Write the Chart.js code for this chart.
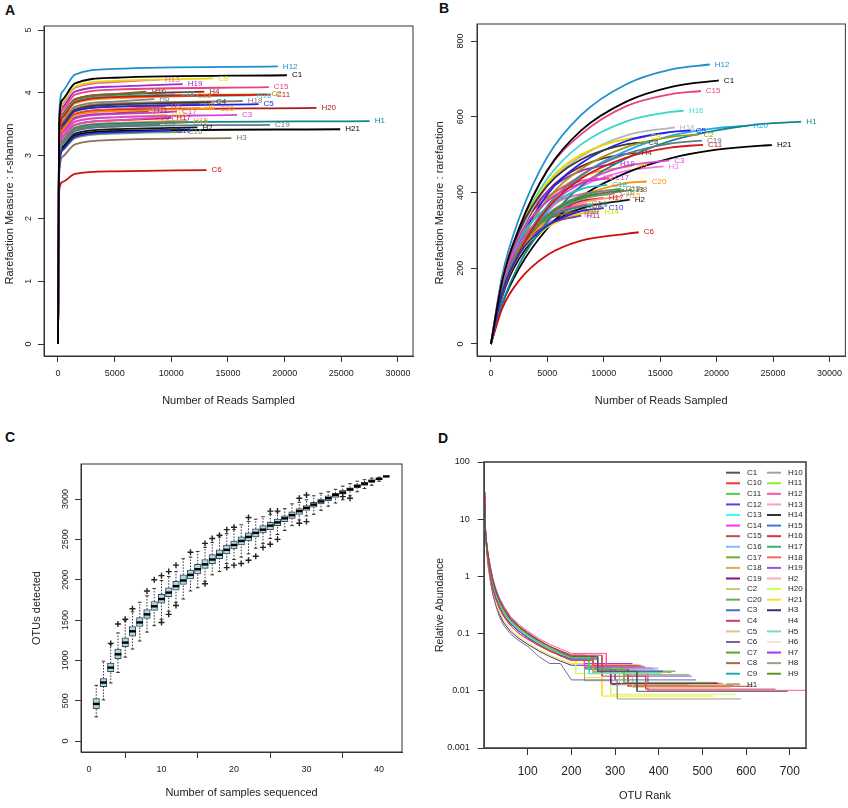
<!DOCTYPE html>
<html>
<head>
<meta charset="utf-8">
<title>Rarefaction and rank abundance</title>
<script src="https://cdn.jsdelivr.net/npm/chart.js@4.4.1/dist/chart.umd.min.js"></script>
<style>
  body { margin: 0; background: #fff; width: 848px; height: 808px; position: relative; overflow: hidden; }
  canvas { position: absolute; }
  .tag { position: absolute; font: bold 14px "Liberation Sans", Arial, sans-serif; line-height: 14px; color: #111; }
</style>
</head>
<body>
<div class="tag" style="left:5px;top:3px">A</div>
<div class="tag" style="left:439px;top:1px">B</div>
<div class="tag" style="left:5px;top:430px">C</div>
<div class="tag" style="left:438px;top:431px">D</div>
<canvas id="chartA" width="424" height="412" style="left:0;top:0"></canvas>
<canvas id="chartB" width="424" height="412" style="left:424px;top:0"></canvas>
<canvas id="chartC" width="424" height="404" style="left:0;top:404px"></canvas>
<canvas id="chartD" width="424" height="404" style="left:424px;top:404px"></canvas>
<script>
// samples, same order as the legend of panel D
var samples = ["C1","C10","C11","C12","C13","C14","C15","C16","C17","C18","C19","C2","C20",
  "C3","C4","C5","C6","C7","C8","C9","H1","H10","H11","H12","H13","H14","H15","H16","H17",
  "H18","H19","H2","H20","H21","H3","H4","H5","H6","H7","H8","H9"];

// reads per sample (where each rarefaction curve stops)
var readsEnd = {
  C1: 20200, C10: 10000, C11: 18800, C12: 11500, C13: 11800, C14: 8500, C15: 18600,
  C16: 11000, C17: 10500, C18: 10300, C19: 18700, C2: 18400, C20: 13800, C3: 15800,
  C4: 13500, C5: 17700, C6: 13100, C7: 8000, C8: 13700, C9: 9000, H1: 27500, H10: 7800,
  H11: 8000, H12: 19400, H13: 9000, H14: 9600, H15: 11500, H16: 17100, H17: 10000,
  H18: 16300, H19: 11000, H2: 12300, H20: 22800, H21: 24900, H3: 15300, H4: 12900,
  H5: 9500, H6: 8500, H7: 7800, H8: 12500, H9: 12500
};

// panel A: shannon at these reads, last value is at readsEnd
var shannonX = [0, 100, 400, 1500, 5000];
var shannonY = {
  C1: [0, 3.51, 3.89, 4.15, 4.24, 4.28], C10: [0, 2.79, 3.09, 3.30, 3.37, 3.40],
  C11: [0, 3.26, 3.61, 3.85, 3.93, 3.97], C12: [0, 2.89, 3.21, 3.42, 3.49, 3.53],
  C13: [0, 3.24, 3.59, 3.83, 3.91, 3.95], C14: [0, 2.95, 3.28, 3.49, 3.56, 3.60],
  C15: [0, 3.35, 3.72, 3.97, 4.05, 4.09], C16: [0, 2.77, 3.08, 3.28, 3.35, 3.38],
  C17: [0, 3.03, 3.37, 3.59, 3.66, 3.70], C18: [0, 3.26, 3.62, 3.86, 3.94, 3.98],
  C19: [0, 2.86, 3.18, 3.39, 3.46, 3.49], C2: [0, 3.26, 3.62, 3.86, 3.94, 3.98],
  C20: [0, 3.08, 3.41, 3.64, 3.71, 3.75], C3: [0, 2.99, 3.32, 3.54, 3.61, 3.65],
  C4: [0, 3.16, 3.50, 3.73, 3.81, 3.85], C5: [0, 3.13, 3.48, 3.71, 3.78, 3.82],
  C6: [0, 2.44, 2.58, 2.71, 2.75, 2.77], C7: [0, 3.28, 3.64, 3.88, 3.96, 4.00],
  C8: [0, 3.47, 3.85, 4.10, 4.19, 4.23], C9: [0, 2.87, 3.19, 3.40, 3.47, 3.50],
  H1: [0, 2.91, 3.23, 3.44, 3.51, 3.55], H10: [0, 3.30, 3.66, 3.90, 3.98, 4.02],
  H11: [0, 3.04, 3.38, 3.60, 3.67, 3.71], H12: [0, 3.62, 4.02, 4.29, 4.38, 4.42],
  H13: [0, 3.45, 3.83, 4.08, 4.17, 4.21], H14: [0, 2.99, 3.32, 3.54, 3.61, 3.65],
  H15: [0, 2.92, 3.24, 3.45, 3.52, 3.56], H16: [0, 3.25, 3.60, 3.84, 3.92, 3.96],
  H17: [0, 2.95, 3.28, 3.49, 3.56, 3.60], H18: [0, 3.17, 3.52, 3.75, 3.83, 3.87],
  H19: [0, 3.39, 3.77, 4.02, 4.10, 4.14], H2: [0, 2.83, 3.14, 3.35, 3.42, 3.45],
  H20: [0, 3.08, 3.42, 3.65, 3.72, 3.76], H21: [0, 2.80, 3.11, 3.32, 3.39, 3.42],
  H3: [0, 2.69, 2.98, 3.18, 3.25, 3.28], H4: [0, 3.30, 3.66, 3.90, 3.98, 4.02],
  H5: [0, 3.10, 3.44, 3.67, 3.74, 3.78], H6: [0, 3.20, 3.55, 3.78, 3.86, 3.90],
  H7: [0, 3.05, 3.39, 3.61, 3.68, 3.72], H8: [0, 3.13, 3.48, 3.71, 3.78, 3.82],
  H9: [0, 3.08, 3.42, 3.65, 3.72, 3.76]
};

// panel B: observed OTUs at these reads, last value is at readsEnd
var rareX = [0, 1000, 2500, 5000, 8000, 12000, 16000, 20000, 24000];
var rareY = {
  C1: [0, 167, 306, 459, 564, 640, 679, 696], C10: [0, 136, 237, 312, 351, 359],
  C11: [0, 132, 242, 358, 437, 492, 519, 526], C12: [0, 144, 250, 342, 392, 410],
  C13: [0, 138, 244, 338, 387, 407], C14: [0, 155, 263, 339, 370],
  C15: [0, 167, 307, 458, 554, 628, 660, 668], C16: [0, 143, 251, 336, 382, 398],
  C17: [0, 162, 283, 377, 425, 438], C18: [0, 155, 273, 361, 409, 420],
  C19: [0, 134, 247, 365, 446, 502, 530, 537], C2: [0, 138, 257, 382, 462, 520, 547, 553],
  C20: [0, 133, 236, 335, 390, 425, 429], C3: [0, 136, 247, 359, 424, 470, 485],
  C4: [0, 165, 298, 418, 487, 527, 532], C5: [0, 147, 265, 395, 477, 536, 560, 564],
  C6: [0, 94, 168, 235, 273, 291, 295], C7: [0, 161, 266, 339, 365],
  C8: [0, 169, 300, 426, 500, 541, 546], C9: [0, 147, 253, 330, 363, 367],
  H1: [0, 106, 211, 323, 417, 490, 537, 564, 581, 587], H10: [0, 158, 261, 329, 350],
  H11: [0, 149, 247, 315, 339], H12: [0, 181, 332, 494, 605, 686, 725, 738],
  H13: [0, 160, 276, 360, 396, 400], H14: [0, 137, 235, 308, 344, 350],
  H15: [0, 137, 238, 326, 372, 390], H16: [0, 163, 302, 437, 527, 588, 613, 616],
  H17: [0, 146, 254, 335, 377, 385], H18: [0, 154, 286, 418, 495, 551, 572],
  H19: [0, 171, 300, 402, 457, 476], H2: [0, 128, 225, 311, 358, 381],
  H20: [0, 121, 236, 351, 444, 510, 550, 570, 576],
  H21: [0, 105, 200, 305, 389, 452, 491, 513, 524, 525],
  H3: [0, 131, 244, 349, 415, 457, 469], H4: [0, 164, 287, 403, 469, 502, 504],
  H5: [0, 171, 296, 388, 431, 438], H6: [0, 151, 256, 329, 360],
  H7: [0, 153, 253, 320, 340], H8: [0, 134, 236, 330, 383, 407],
  H9: [0, 155, 273, 381, 442, 470]
};

// panel C: OTUs detected vs number of samples pooled
var poolN = [];
for (var n = 1; n <= 41; n++) poolN.push(n);
var poolMed = [460, 725, 910, 1075, 1220, 1360, 1470, 1570, 1670, 1760, 1840, 1920, 1990, 2060,
  2130, 2190, 2250, 2310, 2370, 2430, 2480, 2530, 2580, 2620, 2670, 2710, 2760, 2800, 2850,
  2890, 2930, 2970, 3010, 3050, 3080, 3120, 3160, 3190, 3220, 3250, 3280];
var poolQ1 = [400, 675, 860, 1020, 1170, 1300, 1420, 1520, 1620, 1710, 1790, 1870, 1940, 2010,
  2070, 2140, 2200, 2260, 2320, 2380, 2430, 2480, 2530, 2580, 2620, 2670, 2720, 2760, 2810,
  2860, 2900, 2940, 2980, 3020, 3060, 3100, 3140, 3170, 3210, 3240, 3280];
var poolQ3 = [525, 775, 965, 1140, 1280, 1420, 1530, 1630, 1730, 1820, 1900, 1980, 2060, 2120,
  2190, 2250, 2310, 2370, 2430, 2480, 2530, 2580, 2630, 2670, 2710, 2750, 2790, 2840, 2880,
  2920, 2960, 3000, 3040, 3070, 3110, 3140, 3180, 3210, 3240, 3260, 3280];
var poolLo = [300, 510, 720, 850, 1040, 1140, 1240, 1350, 1430, 1510, 1610, 1720, 1760, 1860,
  1900, 1980, 2060, 2100, 2200, 2250, 2280, 2320, 2390, 2450, 2510, 2560, 2610, 2670, 2740,
  2790, 2810, 2860, 2910, 2950, 2990, 3040, 3090, 3130, 3170, 3220, 3280];
var poolHi = [690, 990, 1200, 1340, 1490, 1600, 1720, 1800, 1890, 1990, 2040, 2100, 2260, 2280,
  2350, 2400, 2460, 2530, 2570, 2620, 2680, 2720, 2750, 2780, 2810, 2840, 2880, 2940, 2960,
  2990, 3040, 3070, 3090, 3120, 3160, 3190, 3220, 3240, 3260, 3270, 3280];
var poolOut = [[3, 1210], [4, 1450], [5, 1510], [6, 1640], [8, 1860], [9, 2000], [10, 2050],
  [10, 1470], [11, 2100], [11, 1570], [12, 2180], [12, 1680], [14, 2340], [16, 2450], [16, 1950],
  [17, 2510], [18, 2550], [19, 2620], [19, 2150], [20, 2650], [20, 2180], [21, 2200], [22, 2770],
  [22, 2240], [23, 2290], [24, 2400], [25, 2850], [25, 2440], [26, 2850], [26, 2500], [29, 3010],
  [29, 2700], [30, 3050], [30, 2720], [35, 3030], [36, 3010]];

// panel D: relative abundance (%) at these ranks, then the tail steps [rank, value]
var rankX = [1, 2, 4, 7, 10, 15, 20, 27, 35, 45, 60, 80, 100, 125, 150, 175, 200];
var abund = {
  C1: [18, 11, 5.5, 3.2, 2.2, 1.3, 0.85, 0.55, 0.38, 0.27, 0.18, 0.13, 0.1, 0.075, 0.06, 0.048, 0.04],
  C10: [25, 13, 5, 2.6, 1.6, 0.95, 0.6, 0.4, 0.28, 0.2, 0.14, 0.1, 0.08, 0.062, 0.05, 0.041, 0.034],
  C11: [15, 9.5, 5.2, 3.0, 2.0, 1.2, 0.8, 0.52, 0.36, 0.26, 0.17, 0.12, 0.095, 0.07, 0.055, 0.045, 0.038],
  C12: [22, 11, 4.6, 2.6, 1.7, 1.0, 0.65, 0.43, 0.3, 0.21, 0.15, 0.11, 0.085, 0.064, 0.05, 0.042, 0.036],
  C13: [20, 10, 4.8, 2.7, 1.8, 1.1, 0.7, 0.45, 0.31, 0.22, 0.16, 0.115, 0.09, 0.068, 0.055, 0.044, 0.036],
  C14: [24, 12, 5.0, 2.7, 1.7, 0.98, 0.62, 0.41, 0.28, 0.2, 0.14, 0.1, 0.08, 0.062, 0.05, 0.041, 0.035],
  C15: [16, 10.5, 5.8, 3.4, 2.3, 1.4, 0.9, 0.58, 0.4, 0.28, 0.19, 0.135, 0.105, 0.078, 0.06, 0.05, 0.042],
  C16: [21, 10, 4.5, 2.5, 1.6, 0.97, 0.62, 0.42, 0.29, 0.21, 0.15, 0.11, 0.085, 0.063, 0.05, 0.041, 0.035],
  C17: [19, 10, 5.2, 2.9, 1.9, 1.12, 0.72, 0.47, 0.33, 0.23, 0.16, 0.115, 0.09, 0.068, 0.055, 0.045, 0.038],
  C18: [17, 9.5, 5.0, 2.9, 1.9, 1.15, 0.75, 0.49, 0.34, 0.24, 0.17, 0.12, 0.09, 0.068, 0.055, 0.045, 0.037],
  C19: [23, 11.5, 5.0, 2.8, 1.8, 1.05, 0.68, 0.44, 0.3, 0.21, 0.15, 0.11, 0.085, 0.064, 0.05, 0.042, 0.036],
  C2: [18, 10.5, 5.4, 3.1, 2.0, 1.22, 0.8, 0.52, 0.36, 0.25, 0.17, 0.125, 0.095, 0.072, 0.058, 0.048, 0.04],
  C20: [20, 10.5, 5.1, 2.8, 1.8, 1.1, 0.7, 0.46, 0.32, 0.22, 0.16, 0.115, 0.09, 0.066, 0.052, 0.043, 0.036],
  C3: [21, 10.5, 5.0, 2.8, 1.8, 1.1, 0.7, 0.46, 0.32, 0.23, 0.16, 0.115, 0.09, 0.068, 0.055, 0.045, 0.038],
  C4: [17, 10, 5.3, 3.1, 2.1, 1.27, 0.82, 0.53, 0.36, 0.25, 0.17, 0.125, 0.095, 0.072, 0.057, 0.048, 0.04],
  C5: [19, 10.5, 5.5, 3.1, 2.0, 1.2, 0.78, 0.51, 0.35, 0.25, 0.17, 0.125, 0.095, 0.072, 0.056, 0.047, 0.04],
  C6: [30, 14, 5.5, 2.6, 1.5, 0.82, 0.5, 0.31, 0.2, 0.14, 0.1, 0.075, 0.06, 0.04, 0.03, 0.03, 0.0155],
  C7: [16, 9.5, 5.2, 3.0, 2.0, 1.2, 0.78, 0.51, 0.35, 0.24, 0.16, 0.115, 0.09, 0.066, 0.05, 0.041, 0.034],
  C8: [15, 9.5, 5.4, 3.1, 2.1, 1.3, 0.85, 0.55, 0.38, 0.27, 0.18, 0.13, 0.1, 0.075, 0.058, 0.048, 0.04],
  C9: [22, 11, 5.0, 2.7, 1.7, 1.0, 0.65, 0.43, 0.3, 0.21, 0.15, 0.11, 0.085, 0.063, 0.05, 0.041, 0.034],
  H1: [21, 10.5, 5.0, 2.8, 1.8, 1.1, 0.7, 0.46, 0.32, 0.23, 0.16, 0.115, 0.09, 0.068, 0.055, 0.045, 0.038],
  H10: [16, 9.2, 5.0, 2.9, 2.0, 1.2, 0.76, 0.5, 0.34, 0.24, 0.16, 0.115, 0.09, 0.066, 0.05, 0.041, 0.034],
  H11: [20, 10.5, 5.0, 2.8, 1.8, 1.05, 0.68, 0.45, 0.31, 0.22, 0.15, 0.11, 0.085, 0.063, 0.05, 0.041, 0.034],
  H12: [12, 8.2, 5.0, 3.2, 2.3, 1.45, 0.95, 0.62, 0.42, 0.3, 0.2, 0.145, 0.11, 0.083, 0.065, 0.054, 0.045],
  H13: [14, 8.8, 5.2, 3.1, 2.1, 1.27, 0.82, 0.53, 0.36, 0.25, 0.17, 0.125, 0.095, 0.07, 0.055, 0.045, 0.037],
  H14: [20, 11, 5.4, 3.1, 2.0, 1.25, 0.85, 0.6, 0.42, 0.3, 0.2, 0.135, 0.1, 0.072, 0.055, 0.044, 0.036],
  H15: [22, 11, 4.8, 2.65, 1.7, 1.0, 0.66, 0.44, 0.3, 0.21, 0.15, 0.11, 0.085, 0.063, 0.05, 0.041, 0.035],
  H16: [17, 10, 5.6, 3.3, 2.2, 1.35, 0.88, 0.57, 0.39, 0.27, 0.18, 0.13, 0.1, 0.077, 0.06, 0.05, 0.042],
  H17: [21, 10.5, 5.0, 2.7, 1.7, 1.0, 0.66, 0.44, 0.3, 0.21, 0.15, 0.11, 0.085, 0.063, 0.05, 0.041, 0.035],
  H18: [18, 10, 5.3, 3.0, 2.0, 1.22, 0.8, 0.52, 0.36, 0.25, 0.17, 0.125, 0.095, 0.072, 0.056, 0.047, 0.04],
  H19: [15, 9.2, 5.2, 3.1, 2.1, 1.27, 0.82, 0.54, 0.37, 0.26, 0.17, 0.125, 0.095, 0.072, 0.056, 0.047, 0.04],
  H2: [24, 11.5, 4.8, 2.5, 1.6, 0.94, 0.6, 0.4, 0.28, 0.2, 0.14, 0.1, 0.08, 0.062, 0.05, 0.041, 0.034],
  H20: [19, 10, 5.0, 2.8, 1.8, 1.1, 0.72, 0.47, 0.33, 0.23, 0.16, 0.115, 0.09, 0.067, 0.053, 0.043, 0.036],
  H21: [26, 11.5, 4.5, 2.3, 1.4, 0.82, 0.52, 0.34, 0.24, 0.17, 0.12, 0.088, 0.07, 0.053, 0.042, 0.035, 0.03],
  H3: [28, 12, 4.6, 2.3, 1.4, 0.8, 0.5, 0.32, 0.22, 0.155, 0.11, 0.082, 0.065, 0.05, 0.04, 0.033, 0.028],
  H4: [16, 9.5, 5.3, 3.0, 2.0, 1.22, 0.8, 0.52, 0.36, 0.25, 0.17, 0.125, 0.095, 0.072, 0.056, 0.047, 0.04],
  H5: [18, 10, 5.1, 2.9, 1.9, 1.14, 0.74, 0.48, 0.33, 0.23, 0.16, 0.115, 0.09, 0.068, 0.054, 0.044, 0.037],
  H6: [17, 9.5, 5.0, 2.9, 1.9, 1.14, 0.74, 0.48, 0.33, 0.23, 0.16, 0.115, 0.09, 0.066, 0.052, 0.042, 0.035],
  H7: [19, 10, 5.0, 2.8, 1.8, 1.08, 0.7, 0.46, 0.32, 0.22, 0.15, 0.11, 0.085, 0.064, 0.05, 0.041, 0.035],
  H8: [18, 9.8, 5.0, 2.85, 1.85, 1.12, 0.72, 0.47, 0.33, 0.23, 0.16, 0.115, 0.09, 0.067, 0.053, 0.043, 0.036],
  H9: [19, 10, 5.1, 2.9, 1.9, 1.15, 0.74, 0.49, 0.34, 0.24, 0.16, 0.115, 0.09, 0.068, 0.054, 0.045, 0.038]
};
var abundTail = {
  C1: [[260, 0.022], [350, 0.0098], [695, 0.0098]], C10: [[250, 0.028], [359, 0.028]],
  C11: [[240, 0.024], [320, 0.014], [526, 0.014]], C12: [[260, 0.022], [410, 0.022]],
  C13: [[240, 0.02], [407, 0.02]], C14: [[230, 0.026], [370, 0.026]],
  C15: [[270, 0.018], [370, 0.0107], [667, 0.0107]], C16: [[230, 0.025], [398, 0.025]],
  C17: [[260, 0.022], [438, 0.022]], C18: [[250, 0.021], [420, 0.021]],
  C19: [[230, 0.025], [290, 0.0135], [537, 0.0135]], C2: [[240, 0.025], [310, 0.013], [553, 0.013]],
  C20: [[250, 0.021], [429, 0.021]], C3: [[240, 0.024], [300, 0.0155], [485, 0.0155]],
  C4: [[250, 0.024], [320, 0.014], [532, 0.014]], C5: [[250, 0.02], [340, 0.0115], [564, 0.0115]],
  C6: [[295, 0.0155]], C7: [[240, 0.027], [365, 0.027]],
  C8: [[260, 0.024], [330, 0.0135], [546, 0.0135]], C9: [[230, 0.026], [367, 0.026]],
  H1: [[230, 0.015], [305, 0.0072], [588, 0.0072]], H10: [[240, 0.028], [350, 0.028]],
  H11: [[240, 0.028], [339, 0.028]], H12: [[280, 0.02], [375, 0.0102], [737, 0.0102]],
  H13: [[250, 0.024], [400, 0.024]], H14: [[240, 0.026], [350, 0.026]],
  H15: [[240, 0.024], [390, 0.024]], H16: [[230, 0.024], [330, 0.012], [615, 0.012]],
  H17: [[240, 0.025], [385, 0.025]], H18: [[250, 0.022], [330, 0.0125], [572, 0.0125]],
  H19: [[260, 0.025], [330, 0.018], [476, 0.018]], H2: [[230, 0.025], [381, 0.025]],
  H20: [[210, 0.02], [290, 0.0087], [576, 0.0087]], H21: [[230, 0.017], [270, 0.0081], [525, 0.0081]],
  H3: [[240, 0.02], [290, 0.0128], [469, 0.0128]], H4: [[250, 0.024], [330, 0.016], [504, 0.016]],
  H5: [[250, 0.022], [438, 0.022]], H6: [[240, 0.027], [360, 0.027]],
  H7: [[230, 0.03], [340, 0.03]], H8: [[260, 0.022], [407, 0.022]],
  H9: [[250, 0.026], [320, 0.019], [470, 0.019]]
};

// tick labels
var readsTicks = [0, 5000, 10000, 15000, 20000, 25000, 30000];
var shannonTicks = [0, 1, 2, 3, 4, 5];
var rareTicks = [0, 200, 400, 600, 800];
var poolXTicks = [0, 10, 20, 30, 40];
var poolYTicks = [0, 500, 1000, 1500, 2000, 2500, 3000];
var rankTicks = [100, 200, 300, 400, 500, 600, 700];
var abundTicks = [0.001, 0.01, 0.1, 1, 10, 100];

// colours
var lineColors = {
  C1: "#000000", C10: "#2828d8", C11: "#d81818", C12: "#5a8a6a", C13: "#f59a23", C14: "#e04fb0",
  C15: "#ea3f86", C16: "#6a9a7a", C17: "#c83fc8", C18: "#20c0c0", C19: "#667788", C2: "#9a9a1a",
  C20: "#ff8c00", C3: "#d845d8", C4: "#3a3a3a", C5: "#2020f0", C6: "#cc1010", C7: "#3c8c3c",
  C8: "#e8d800", C9: "#1f8f8f", H1: "#108888", H10: "#a0522d", H11: "#8b3a8b", H12: "#1f8fcf",
  H13: "#e86aa0", H14: "#d8d800", H15: "#ff9f40", H16: "#38d8c8", H17: "#c8145a", H18: "#8c7c6c",
  H19: "#9a30c8", H2: "#151515", H20: "#a81c1c", H21: "#000000", H3: "#8b7355", H4: "#8b2323",
  H5: "#f05060", H6: "#808080", H7: "#e080e0", H8: "#9a6a50", H9: "#ff9a10"
};
var lineColorsB = Object.assign({}, lineColors, { C13: "#2e8b2e", H18: "#b4b4b4", H20: "#22a8f0", H3: "#ee77ee" });
var abundColors = {
  C1: "#555555", C10: "#ff3030", C11: "#55cc44", C12: "#4848e0", C13: "#33ffff", C14: "#ff33ee",
  C15: "#c84850", C16: "#88bbee", C17: "#77aa33", C18: "#e0a860", C19: "#881177", C2: "#cccc66",
  C20: "#66aa55", C3: "#4a70c0", C4: "#dd3377", C5: "#ddc090", C6: "#776699", C7: "#55aa22",
  C8: "#aa6644", C9: "#22aaaa", H1: "#99aa77", H10: "#aaa090", H11: "#88ee33", H12: "#ff55aa",
  H13: "#ff99cc", H14: "#333333", H15: "#4477dd", H16: "#dd3333", H17: "#44aa77", H18: "#ff6655",
  H19: "#9955dd", H2: "#ffaabb", H20: "#ccff55", H21: "#ffdd22", H3: "#333377", H4: "#ffffff",
  H5: "#77ddbb", H6: "#f5e6d3", H7: "#aa33ee", H8: "#aa9988", H9: "#559922"
};

var FONT = '"Liberation Sans", Arial, Helvetica, sans-serif';
Chart.defaults.font.family = FONT;
Chart.defaults.color = '#222';

// helpers
function curve(gridX, vals, endX) {
  var pts = [];
  for (var i = 0; i < vals.length - 1; i++) pts.push({ x: gridX[i], y: vals[i] });
  pts.push({ x: endX, y: vals[vals.length - 1] });
  return pts;
}
function fixedTicks(list) {
  return function(scale) {
    scale.ticks = list.map(function(v) { return { value: v }; });
  };
}
function plain(v) { return String(v); }

// box around the plot region
var framePlugin = {
  id: 'frame',
  afterDraw: function(chart, args, opts) {
    var a = chart.chartArea, ctx = chart.ctx;
    ctx.save();
    ctx.strokeStyle = opts.color || '#333';
    ctx.lineWidth = opts.width || 1;
    ctx.strokeRect(a.left, a.top, a.right - a.left, a.bottom - a.top);
    ctx.restore();
  }
};

// y tick labels turned 90 degrees like R draws them
var sideLabels = {
  id: 'sideLabels',
  afterDraw: function(chart, args, opts) {
    var y = chart.scales.y, ctx = chart.ctx;
    ctx.save();
    ctx.font = '9px ' + FONT;
    ctx.fillStyle = '#222';
    ctx.textAlign = 'center';
    ctx.textBaseline = 'middle';
    y.ticks.forEach(function(t) {
      ctx.save();
      ctx.translate(chart.chartArea.left - opts.offset, y.getPixelForValue(t.value));
      ctx.rotate(-Math.PI / 2);
      ctx.fillText(String(t.value), 0, 0);
      ctx.restore();
    });
    if (opts.title) {
      // axis title, sits a little below the middle of the box in the original
      ctx.font = '11px ' + FONT;
      ctx.translate(opts.titleX, (chart.chartArea.top + chart.chartArea.bottom) / 2 + opts.titleShift);
      ctx.rotate(-Math.PI / 2);
      ctx.fillText(opts.title, 0, 0);
    }
    ctx.restore();
  }
};

// sample name at the end of every curve
var endLabels = {
  id: 'endLabels',
  afterDatasetsDraw: function(chart) {
    var ctx = chart.ctx;
    ctx.save();
    ctx.font = '8px ' + FONT;
    ctx.textBaseline = 'middle';
    ctx.textAlign = 'left';
    chart.data.datasets.forEach(function(ds, i) {
      var pts = chart.getDatasetMeta(i).data;
      var p = pts[pts.length - 1];
      ctx.fillStyle = ds.borderColor;
      ctx.fillText(ds.label, p.x + 5, p.y);
    });
    ctx.restore();
  }
};

// two column legend inside panel D
var legendD = {
  id: 'legendD',
  afterDraw: function(chart) {
    var ctx = chart.ctx, a = chart.chartArea;
    ctx.save();
    ctx.font = '8px ' + FONT;
    ctx.textBaseline = 'middle';
    chart.data.datasets.forEach(function(ds, i) {
      var col = i < 21 ? 0 : 1;
      var row = col ? i - 21 : i;
      var x = a.right - (col ? 39 : 80);
      var y = a.top + 10.7 + row * 10.58;
      ctx.strokeStyle = ds.borderColor;
      ctx.lineWidth = 2;
      ctx.beginPath();
      ctx.moveTo(x, y);
      ctx.lineTo(x + 14, y);
      ctx.stroke();
      ctx.fillStyle = '#222';
      ctx.fillText(ds.label, x + 21, y);
    });
    ctx.restore();
  }
};

function tickGrid(len) {
  return { display: true, drawOnChartArea: false, drawTicks: true, tickLength: len, color: '#333', lineWidth: 1 };
}
var axisBorder = { display: true, color: '#333', width: 1 };

// Panel A
new Chart(document.getElementById('chartA'), {
  type: 'line',
  data: {
    datasets: samples.map(function(s) {
      return {
        label: s,
        data: curve(shannonX, shannonY[s], readsEnd[s]),
        borderColor: lineColors[s],
        borderWidth: 1.8,
        pointRadius: 0,
        fill: false,
        cubicInterpolationMode: 'monotone'
      };
    })
  },
  options: {
    animation: false,
    responsive: false,
    events: [],
    layout: { padding: { left: 0, top: 26, right: 11, bottom: 0 } },
    plugins: {
      legend: { display: false }, tooltip: { enabled: false }, frame: { width: 1 },
      sideLabels: { offset: 15, title: 'Rarefaction Measure : r-shannon', titleX: 10, titleShift: 13 }
    },
    scales: {
      x: {
        type: 'linear', min: -1235, max: 31324,
        afterBuildTicks: fixedTicks(readsTicks),
        afterFit: function(s) { s.height = 56; },
        ticks: { font: { size: 9 }, padding: 6, maxRotation: 0, autoSkip: false, callback: plain },
        grid: tickGrid(6), border: axisBorder,
        title: { display: true, text: 'Number of Reads Sampled', font: { size: 11 }, padding: { top: 0, bottom: 4.4 } }
      },
      y: {
        type: 'linear', min: -0.191, max: 5.064,
        afterBuildTicks: fixedTicks(shannonTicks),
        afterFit: function(s) { s.width = 44; },
        ticks: { display: false },
        grid: tickGrid(6), border: axisBorder
      }
    }
  },
  plugins: [framePlugin, sideLabels, endLabels]
});

// Panel B
new Chart(document.getElementById('chartB'), {
  type: 'line',
  data: {
    datasets: samples.map(function(s) {
      return {
        label: s,
        data: curve(rareX, rareY[s], readsEnd[s]),
        borderColor: lineColorsB[s],
        borderWidth: 1.8,
        pointRadius: 0,
        fill: false,
        cubicInterpolationMode: 'monotone'
      };
    })
  },
  options: {
    animation: false,
    responsive: false,
    events: [],
    layout: { padding: { left: 0, top: 24, right: 1, bottom: 0 } },
    plugins: {
      legend: { display: false }, tooltip: { enabled: false }, frame: { width: 1 },
      sideLabels: { offset: 16, title: 'Rarefaction Measure : rarefaction', titleX: 16, titleShift: 13 }
    },
    scales: {
      x: {
        type: 'linear', min: -1235, max: 31412,
        afterBuildTicks: fixedTicks(readsTicks),
        afterFit: function(s) { s.height = 56; },
        ticks: { font: { size: 9 }, padding: 6, maxRotation: 0, autoSkip: false, callback: plain },
        grid: tickGrid(6), border: axisBorder,
        title: { display: true, text: 'Number of Reads Sampled', font: { size: 11 }, padding: { top: 0, bottom: 4.4 } }
      },
      y: {
        type: 'linear', min: -31.7, max: 844.9,
        afterBuildTicks: fixedTicks(rareTicks),
        afterFit: function(s) { s.width = 53; },
        ticks: { display: false },
        grid: tickGrid(6), border: axisBorder
      }
    }
  },
  plugins: [framePlugin, sideLabels, endLabels]
});

// Panel C: boxplots drawn as floating bars, whiskers, medians and outliers
var whiskerPts = [];
var capPts = [];
poolN.forEach(function(n, i) {
  whiskerPts.push({ x: n, y: poolLo[i] }, { x: n, y: poolQ1[i] }, { x: n, y: null });
  whiskerPts.push({ x: n, y: poolQ3[i] }, { x: n, y: poolHi[i] }, { x: n, y: null });
  capPts.push({ x: n, y: poolLo[i] }, { x: n, y: poolHi[i] });
});

new Chart(document.getElementById('chartC'), {
  type: 'bar',
  data: {
    datasets: [
      {
        type: 'line', label: 'outliers', order: 0,
        data: poolOut.map(function(o) { return { x: o[0], y: o[1] }; }),
        showLine: false, pointStyle: 'cross', pointRadius: 3, pointBorderWidth: 1.4,
        pointBorderColor: '#222', borderColor: '#222'
      },
      {
        type: 'line', label: 'median', order: 1,
        data: poolN.map(function(n, i) { return { x: n, y: poolMed[i] }; }),
        showLine: false, pointStyle: 'line', pointRadius: 3.3, pointBorderWidth: 2.4,
        pointBorderColor: '#000', borderColor: '#000'
      },
      {
        type: 'line', label: 'caps', order: 2,
        data: capPts,
        showLine: false, pointStyle: 'line', pointRadius: 1.8, pointBorderWidth: 1,
        pointBorderColor: '#333', borderColor: '#333'
      },
      {
        label: 'box', order: 3,
        data: poolN.map(function(n, i) { return { x: n, y: [poolQ1[i], poolQ3[i]] }; }),
        backgroundColor: '#add8e6', borderColor: '#3a4a50', borderWidth: 1,
        borderSkipped: false, barThickness: 6.5
      },
      {
        type: 'line', label: 'whiskers', order: 4,
        data: whiskerPts,
        borderColor: '#333', borderWidth: 1, borderDash: [1.5, 1.5],
        pointRadius: 0, spanGaps: false, fill: false
      }
    ]
  },
  options: {
    animation: false,
    responsive: false,
    events: [],
    layout: { padding: { left: 0, top: 60, right: 22, bottom: 0 } },
    plugins: { legend: { display: false }, tooltip: { enabled: false }, frame: { width: 1 }, sideLabels: { offset: 15 } },
    scales: {
      x: {
        type: 'linear', min: -1.1, max: 43.17, offset: false,
        afterBuildTicks: fixedTicks(poolXTicks),
        afterFit: function(s) { s.height = 56; },
        ticks: { font: { size: 9 }, padding: 6, maxRotation: 0, autoSkip: false, callback: plain },
        grid: tickGrid(6), border: axisBorder,
        title: { display: true, text: 'Number of samples sequenced', font: { size: 11 }, padding: { top: 0, bottom: 8.4 } }
      },
      y: {
        type: 'linear', min: -136, max: 3434,
        afterBuildTicks: fixedTicks(poolYTicks),
        afterFit: function(s) { s.width = 81; },
        ticks: { display: false },
        grid: tickGrid(6), border: axisBorder,
        title: { display: true, text: 'OTUs detected', font: { size: 11 }, padding: { top: 30.7, bottom: 0 } }
      }
    }
  },
  plugins: [framePlugin, sideLabels]
});

// Panel D: rank abundance, smooth head then flat steps in the tail
new Chart(document.getElementById('chartD'), {
  type: 'line',
  data: {
    datasets: samples.map(function(s) {
      var pts = rankX.map(function(r, i) { return { x: r, y: abund[s][i] }; });
      var lastY = pts[pts.length - 1].y;
      abundTail[s].forEach(function(p) {
        pts.push({ x: p[0], y: lastY });
        pts.push({ x: p[0], y: p[1] });
        lastY = p[1];
      });
      return {
        label: s,
        data: pts,
        borderColor: abundColors[s],
        borderWidth: 1,
        pointRadius: 0,
        fill: false
      };
    })
  },
  options: {
    animation: false,
    responsive: false,
    events: [],
    layout: { padding: { left: 0, top: 58, right: 42, bottom: 0 } },
    plugins: { legend: { display: false }, tooltip: { enabled: false }, frame: { width: 1.6, color: '#444' } },
    scales: {
      x: {
        type: 'linear', min: 0, max: 737,
        afterBuildTicks: fixedTicks(rankTicks),
        afterFit: function(s) { s.height = 60; },
        ticks: { font: { size: 12 }, padding: 9, maxRotation: 0, autoSkip: false, callback: plain },
        grid: tickGrid(7), border: axisBorder,
        title: { display: true, text: 'OTU Rank', font: { size: 11 }, padding: { top: 0, bottom: 5.4 } }
      },
      y: {
        type: 'logarithmic', min: 0.001, max: 100,
        afterBuildTicks: fixedTicks(abundTicks),
        afterFit: function(s) { s.width = 60; },
        ticks: { font: { size: 9 }, padding: 8, autoSkip: false, callback: plain },
        grid: tickGrid(6.3), border: axisBorder,
        title: { display: true, text: 'Relative Abundance', font: { size: 10.5 }, padding: { top: 9.4, bottom: 0 } }
      }
    }
  },
  plugins: [framePlugin, legendD]
});
</script>
</body>
</html>
